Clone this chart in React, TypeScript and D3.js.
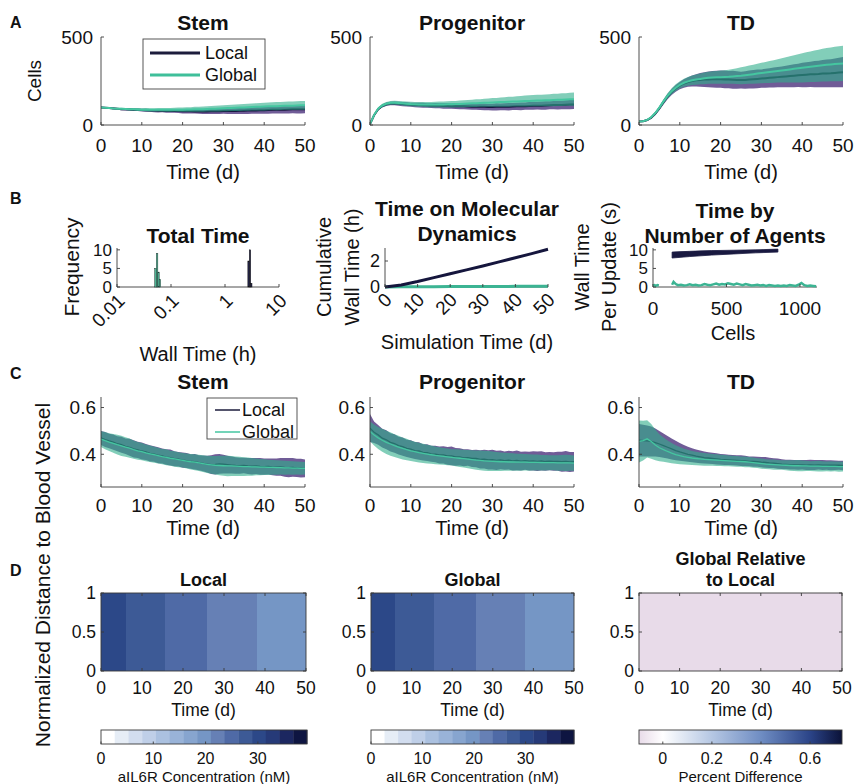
import React from 'react';
import * as d3 from 'd3';

const FONT = '"Liberation Sans", Arial, Helvetica, sans-serif';
const AXC = '#3a3a3a';

// ---------- shared time axis (days) ----------
const DAYS = [0,1,2,3,4,5,6,7,8,9,10,11,12,13,14,15,16,17,18,19,20,21,22,23,24,25,26,27,28,29,30,31,32,33,34,35,36,37,38,39,40,41,42,43,44,45,46,47,48,49,50];
const TIME_TICKS = [0, 10, 20, 30, 40, 50];

// ---------- Panel A: cell counts (mean and half-width of band) ----------
const A_STEM_LOCAL_MEAN = [100,98,96,94,92,90,89,88,87,86,85,84,83,82,81,81,80,80,79,79,78,78,78,77,77,77,77,78,78,78,79,79,80,80,81,81,82,82,83,84,84,85,86,86,87,87,88,89,89,90,90];
const A_STEM_LOCAL_HALF = [3,4,4,5,5,6,6,7,7,7,8,9,8,9,10,9,10,11,10,11,12,12,13,12,13,14,14,15,15,16,15,16,17,17,18,18,19,18,19,20,20,21,20,21,22,22,23,22,23,24,23];
const A_STEM_GLOBAL_MEAN = [100,98,96,94,93,92,91,90,89,88,87,87,86,86,86,86,86,86,87,87,87,88,88,89,89,90,91,92,93,94,95,96,97,98,99,100,101,102,103,104,105,106,107,107,108,109,110,110,111,112,112];
const A_STEM_GLOBAL_HALF = [3,4,4,5,5,6,6,7,7,8,8,9,9,9,10,10,11,11,11,12,12,13,13,14,14,15,15,16,16,17,17,18,18,19,19,19,20,20,21,21,22,22,22,23,23,23,24,24,24,25,25];

const A_PROG_LOCAL_MEAN = [5,55,90,108,118,122,123,121,119,117,115,114,113,112,111,110,110,109,108,108,107,107,106,106,105,104,104,103,103,102,102,103,103,104,104,105,106,106,107,108,109,110,110,111,112,113,113,114,115,116,117];
const A_PROG_LOCAL_HALF = [2,6,8,9,10,10,11,11,12,12,12,13,13,14,13,14,15,14,15,16,15,16,17,16,17,18,17,18,19,18,19,20,19,20,21,20,21,22,21,22,23,22,23,24,23,24,25,24,25,26,26];
const A_PROG_GLOBAL_MEAN = [5,57,93,111,121,126,127,125,123,121,119,118,117,117,116,116,116,117,117,118,118,119,120,121,122,123,124,125,126,127,128,129,130,131,132,133,134,135,136,137,138,139,139,140,141,142,143,144,145,146,147];
const A_PROG_GLOBAL_HALF = [2,6,8,10,10,11,11,12,12,13,13,13,14,14,15,15,16,16,17,17,18,18,19,20,20,21,22,22,23,24,25,25,26,27,28,28,29,30,31,32,32,33,33,34,34,35,35,36,36,37,37];

const A_TD_LOCAL_MEAN = [20,21,28,42,65,95,130,162,188,208,224,236,244,250,254,256,258,259,260,260,260,259,258,257,256,255,256,258,260,262,264,266,268,270,272,274,276,278,280,282,284,286,288,289,290,292,293,294,296,298,300];
const A_TD_LOCAL_HALF = [3,4,5,7,9,11,13,15,17,19,21,24,27,31,35,39,42,45,47,48,49,50,49,51,50,48,50,51,52,53,52,54,55,57,58,59,61,63,65,66,69,71,72,74,75,77,79,80,82,84,86];
const A_TD_GLOBAL_MEAN = [20,21,29,44,68,99,134,166,192,212,228,240,248,254,258,262,265,268,270,271,272,273,274,276,278,280,283,286,289,292,295,298,301,304,307,310,313,316,319,322,325,328,331,334,337,340,342,344,346,348,350];
const A_TD_GLOBAL_HALF = [3,4,5,7,9,11,13,15,17,19,21,23,25,27,29,31,33,34,35,36,37,38,40,42,45,48,50,52,54,56,58,60,62,64,66,69,72,75,78,80,83,85,87,89,91,93,95,96,98,99,100];

const A_Y_TICKS = [0, 500];

// ---------- Panel B ----------
const HIST_GLOBAL_EDGES = [0.05, 0.0535, 0.057, 0.0605, 0.064];
const HIST_GLOBAL_COUNTS = [5, 9, 4, 2];
const HIST_LOCAL_EDGES = [2.65, 2.82, 2.99, 3.16];
const HIST_LOCAL_COUNTS = [7, 10, 1];
const HIST_X_TICKS = [0.01, 0.1, 1, 10];
const HIST_X_LABELS = ['0.01', '0.1', '1', '10'];
const HIST_Y_TICKS = [0, 5, 10];

const MD_TIME = [0, 5, 10, 15, 20, 25, 30, 35, 40, 45, 50];
const MD_LOCAL = [0, 0.15, 0.42, 0.72, 1.02, 1.32, 1.62, 1.93, 2.25, 2.57, 2.9];
const MD_GLOBAL = [0, 0.01, 0.02, 0.02, 0.03, 0.03, 0.04, 0.04, 0.05, 0.05, 0.05];
const MD_Y_TICKS = [0, 2];

const AGENT_LOCAL_CELLS = [130, 250, 400, 550, 700, 850];
const AGENT_LOCAL_LO = [7.8, 8.2, 8.6, 8.9, 9.2, 9.4];
const AGENT_LOCAL_HI = [9.4, 9.6, 9.8, 9.9, 10.0, 10.2];
const AGENT_GLOBAL_CELLS_1 = [0, 10, 20, 30, 40];
const AGENT_GLOBAL_VALS_1 = [0.4, 0.5, 0.3, 0.5, 0.4];
const AGENT_GLOBAL_CELLS_2 = [130,140,155,170,190,210,230,250,270,290,310,330,350,370,390,410,430,450,470,490,510,530,550,570,590,610,630,650,670,690,710,730,750,770,790,810,830,850,870,890,910,930,950,970,990,1010,1030,1050,1070,1090,1110];
const AGENT_GLOBAL_VALS_2 = [0.6,1.4,0.8,0.5,0.6,0.4,0.5,0.7,0.5,0.6,0.4,0.5,0.8,0.6,0.5,0.7,0.9,0.6,0.8,0.7,1.0,0.8,0.6,0.9,0.7,0.5,0.8,0.6,0.4,0.5,0.6,0.4,0.5,0.3,0.5,0.4,0.3,0.4,0.3,0.4,0.3,0.5,0.4,0.3,0.6,1.1,0.5,0.3,0.4,0.3,0.2];
const AGENT_X_TICKS = [0, 500, 1000];
const AGENT_Y_TICKS = [0, 5, 10];

// ---------- Panel C: normalized distance ----------
const C_STEM_LOCAL_MEAN = [0.470,0.463,0.457,0.452,0.445,0.441,0.434,0.430,0.423,0.419,0.414,0.410,0.404,0.401,0.396,0.393,0.388,0.386,0.381,0.379,0.375,0.373,0.369,0.368,0.364,0.361,0.358,0.356,0.357,0.359,0.358,0.356,0.354,0.352,0.351,0.352,0.350,0.349,0.350,0.348,0.347,0.348,0.346,0.345,0.346,0.344,0.343,0.344,0.342,0.341,0.340];
const C_STEM_LOCAL_HALF = [0.030,0.032,0.031,0.033,0.032,0.034,0.033,0.036,0.037,0.035,0.036,0.034,0.035,0.033,0.034,0.032,0.033,0.034,0.032,0.031,0.033,0.032,0.031,0.033,0.032,0.034,0.036,0.040,0.043,0.042,0.040,0.038,0.036,0.035,0.034,0.033,0.034,0.035,0.034,0.036,0.035,0.034,0.036,0.037,0.038,0.040,0.041,0.040,0.039,0.040,0.038];
const C_STEM_GLOBAL_MEAN = [0.465,0.458,0.452,0.447,0.441,0.436,0.431,0.426,0.420,0.415,0.411,0.406,0.402,0.398,0.394,0.390,0.387,0.383,0.380,0.377,0.374,0.371,0.368,0.366,0.363,0.360,0.357,0.355,0.353,0.352,0.351,0.350,0.350,0.349,0.348,0.347,0.347,0.346,0.346,0.345,0.345,0.344,0.344,0.343,0.343,0.342,0.342,0.341,0.341,0.340,0.340];
const C_STEM_GLOBAL_HALF = [0.034,0.037,0.038,0.040,0.042,0.043,0.042,0.041,0.039,0.038,0.037,0.036,0.035,0.034,0.034,0.033,0.034,0.032,0.033,0.032,0.031,0.032,0.033,0.034,0.035,0.036,0.037,0.038,0.040,0.042,0.043,0.044,0.043,0.042,0.041,0.040,0.039,0.038,0.036,0.035,0.034,0.033,0.032,0.031,0.030,0.030,0.029,0.029,0.028,0.028,0.027];

const C_PROG_LOCAL_MEAN = [0.512,0.494,0.483,0.469,0.462,0.451,0.446,0.437,0.433,0.425,0.422,0.416,0.414,0.408,0.407,0.402,0.401,0.397,0.397,0.393,0.393,0.389,0.389,0.385,0.386,0.382,0.382,0.378,0.379,0.376,0.377,0.374,0.376,0.373,0.375,0.372,0.374,0.371,0.373,0.371,0.372,0.370,0.372,0.369,0.371,0.369,0.370,0.368,0.370,0.367,0.368];
const C_PROG_LOCAL_HALF = [0.060,0.046,0.042,0.040,0.041,0.039,0.040,0.038,0.039,0.037,0.038,0.036,0.037,0.035,0.036,0.034,0.035,0.036,0.037,0.038,0.040,0.038,0.037,0.036,0.035,0.036,0.037,0.039,0.040,0.041,0.042,0.041,0.040,0.039,0.040,0.041,0.042,0.040,0.039,0.040,0.041,0.042,0.041,0.040,0.039,0.040,0.041,0.043,0.044,0.043,0.042];
const C_PROG_GLOBAL_MEAN = [0.498,0.482,0.470,0.460,0.451,0.444,0.437,0.431,0.425,0.420,0.415,0.411,0.407,0.404,0.401,0.398,0.395,0.393,0.391,0.389,0.387,0.385,0.383,0.381,0.379,0.377,0.375,0.374,0.372,0.371,0.370,0.369,0.368,0.368,0.367,0.367,0.366,0.366,0.366,0.365,0.365,0.365,0.364,0.364,0.364,0.364,0.363,0.363,0.363,0.363,0.362];
const C_PROG_GLOBAL_HALF = [0.042,0.045,0.047,0.049,0.050,0.050,0.049,0.048,0.047,0.046,0.044,0.043,0.042,0.041,0.040,0.039,0.038,0.037,0.036,0.036,0.035,0.036,0.037,0.038,0.039,0.040,0.041,0.042,0.043,0.043,0.042,0.041,0.040,0.039,0.038,0.037,0.036,0.036,0.035,0.035,0.034,0.034,0.033,0.033,0.032,0.032,0.033,0.034,0.035,0.034,0.033];

const C_TD_LOCAL_MEAN = [0.460,0.458,0.457,0.455,0.450,0.444,0.437,0.430,0.423,0.416,0.410,0.405,0.400,0.396,0.392,0.389,0.386,0.384,0.382,0.380,0.378,0.377,0.376,0.375,0.374,0.373,0.372,0.370,0.369,0.368,0.366,0.365,0.363,0.362,0.360,0.358,0.357,0.356,0.355,0.355,0.355,0.354,0.355,0.354,0.355,0.354,0.354,0.353,0.353,0.353,0.352];
const C_TD_LOCAL_HALF = [0.070,0.068,0.066,0.064,0.060,0.056,0.052,0.048,0.045,0.042,0.038,0.035,0.032,0.030,0.028,0.027,0.026,0.025,0.024,0.024,0.023,0.023,0.022,0.022,0.022,0.023,0.022,0.021,0.022,0.021,0.022,0.023,0.022,0.021,0.022,0.021,0.020,0.021,0.020,0.021,0.020,0.021,0.022,0.021,0.020,0.021,0.020,0.021,0.020,0.019,0.020];
const C_TD_GLOBAL_MEAN = [0.455,0.458,0.466,0.455,0.440,0.428,0.420,0.412,0.405,0.399,0.394,0.390,0.387,0.384,0.382,0.380,0.378,0.377,0.376,0.375,0.374,0.373,0.372,0.371,0.370,0.369,0.368,0.366,0.364,0.362,0.360,0.358,0.357,0.356,0.355,0.354,0.353,0.352,0.351,0.351,0.350,0.350,0.349,0.349,0.349,0.348,0.348,0.348,0.348,0.347,0.347];
const C_TD_GLOBAL_HALF = [0.090,0.085,0.080,0.074,0.066,0.058,0.052,0.047,0.043,0.040,0.037,0.034,0.032,0.030,0.029,0.028,0.027,0.026,0.025,0.025,0.024,0.024,0.023,0.023,0.023,0.022,0.023,0.022,0.022,0.021,0.022,0.021,0.021,0.022,0.021,0.020,0.021,0.022,0.023,0.024,0.023,0.022,0.021,0.022,0.023,0.022,0.021,0.022,0.021,0.022,0.021];

const C_Y_TICKS = [0.4, 0.6];

// ---------- Panel D: concentration vs time (uniform in distance) ----------
const CONC_TIME = [0, 5, 10, 15, 20, 25, 30, 35, 40, 45, 50];
const CONC_LOCAL = [30.7, 29.2, 27.7, 26.4, 25.1, 23.85, 22.7, 21.6, 20.6, 19.6, 18.7];
const CONC_GLOBAL = [30.7, 29.2, 27.7, 26.4, 25.1, 23.85, 22.7, 21.6, 20.6, 19.6, 18.7];
const REL_DIFF = [-0.097, -0.097, -0.097, -0.097, -0.097, -0.097, -0.097, -0.097, -0.097, -0.097, -0.097];
const CONC_MAX = 39.4;
const CONC_TICKS = [0, 10, 20, 30];
const REL_DOMAIN = [-0.097, 0.73];
const REL_TICKS = [0, 0.2, 0.4, 0.6];
const D_Y_TICKS = [0, 0.5, 1];

// colormap (15 discrete levels) and relative-difference colormap
const LEVEL_COLORS = ['#ffffff','#e6edf6','#d2ddef','#bfcfe8','#abc1e0','#99b3d8','#87a5cf','#7596c5','#6680b5','#4f6aa6','#3d5a96','#2c4888','#263a78','#1c2760','#0e1541'];
const REL_STOPS = [-0.097, 0, 0.2, 0.4, 0.6, 0.73];
const REL_COLORS = ['#e8dbe9', '#ffffff', '#b5c7e3', '#6f8dc3', '#2b4488', '#0b1238'];

// ---------- styles ----------
const LOCAL_LINE = '#17173f';
const LOCAL_FILL = '#573f85';
const GLOBAL_LINE = '#45c6a0';
const GLOBAL_FILL = '#2fae8a';

const T = (props: any) => <text fontFamily={FONT} fill="#111" {...props} />;

function TimeBandPanel(p: any) {
  const { x0, y0, w, h, yDomain, yTicks, yFmt, title, local, global, id, titleDy, tickDy, labelDy, yLabelDx, lw } = p;
  const x = d3.scaleLinear().domain([0, 50]).range([x0, x0 + w]);
  const y = d3.scaleLinear().domain(yDomain).range([y0 + h, y0]);
  const area = (m: number[], hw: number[]) =>
    d3.area<number>().x((_, i) => x(DAYS[i])).y0((d, i) => y(d - hw[i])).y1((d, i) => y(d + hw[i]))(m) || '';
  const line = (m: number[]) => d3.line<number>().x((_, i) => x(DAYS[i])).y((d) => y(d))(m) || '';
  return (
    <g>
      <defs>
        <clipPath id={id}>
          <rect x={x0} y={y0} width={w} height={h} />
        </clipPath>
      </defs>
      <g clipPath={`url(#${id})`}>
        <path d={area(local[0], local[1])} fill={LOCAL_FILL} fillOpacity={0.85} />
        <path d={line(local[0])} fill="none" stroke={LOCAL_LINE} strokeWidth={lw} />
        <path d={area(global[0], global[1])} fill={GLOBAL_FILL} fillOpacity={0.6} />
        <path d={line(global[0])} fill="none" stroke={GLOBAL_LINE} strokeWidth={lw} />
      </g>
      <line x1={x0} x2={x0 + w} y1={y0 + h} y2={y0 + h} stroke={AXC} strokeWidth={0.9} />
      <line x1={x0} x2={x0} y1={y0} y2={y0 + h} stroke={AXC} strokeWidth={0.9} />
      {TIME_TICKS.map((t) => (
        <g key={t}>
          <line x1={x(t)} x2={x(t)} y1={y0 + h} y2={y0 + h - 3} stroke={AXC} strokeWidth={0.9} />
          <T x={x(t)} y={y0 + h + tickDy} fontSize={19} textAnchor="middle">{t}</T>
        </g>
      ))}
      {yTicks.map((v: number) => (
        <g key={v}>
          <line x1={x0} x2={x0 + 3} y1={y(v)} y2={y(v)} stroke={AXC} strokeWidth={0.9} />
          <T x={x0 - yLabelDx} y={y(v) + 6.5} fontSize={19} textAnchor="end">{yFmt(v)}</T>
        </g>
      ))}
      <T x={x0 + w / 2} y={y0 - titleDy} fontSize={21} fontWeight="bold" textAnchor="middle">{title}</T>
      <T x={x0 + w / 2} y={y0 + h + labelDy} fontSize={20} textAnchor="middle">Time (d)</T>
    </g>
  );
}

function Legend({ x, y, w, h, lx1, lx2, tx, rows, fs, lw }: any) {
  return (
    <g>
      <rect x={x} y={y} width={w} height={h} fill="#fff" stroke="#444" strokeWidth={0.9} />
      {rows.map((r: any, i: number) => (
        <g key={i}>
          <line x1={lx1} x2={lx2} y1={r.y} y2={r.y} stroke={r.color} strokeWidth={lw} />
          <T x={tx} y={r.y + fs * 0.36} fontSize={fs}>{r.label}</T>
        </g>
      ))}
    </g>
  );
}

function concAt(times: number[], vals: number[], t: number) {
  const i = Math.min(Math.max(d3.bisectRight(times, t) - 1, 0), times.length - 2);
  const f = (t - times[i]) / (times[i + 1] - times[i]);
  return vals[i] + f * (vals[i + 1] - vals[i]);
}

function HeatPanel(p: any) {
  const { x0, y0, w, h, titleLines, colorOf, vals } = p;
  const x = d3.scaleLinear().domain([0, 50]).range([x0, x0 + w]);
  const y = d3.scaleLinear().domain([0, 1]).range([y0 + h, y0]);
  // group pixel columns with identical colour into runs
  const runs: { a: number; b: number; c: string }[] = [];
  for (let px = 0; px < w; px++) {
    const t = x.invert(x0 + px + 0.5);
    const c = colorOf(concAt(CONC_TIME, vals, t));
    const last = runs[runs.length - 1];
    if (last && last.c === c) last.b = px + 1;
    else runs.push({ a: px, b: px + 1, c });
  }
  return (
    <g>
      {runs.map((r, i) => (
        <rect key={i} x={x0 + r.a} y={y0} width={r.b - r.a + (i < runs.length - 1 ? 0.5 : 0)} height={h} fill={r.c} />
      ))}
      <rect x={x0} y={y0} width={w} height={h} fill="none" stroke={AXC} strokeWidth={0.9} />
      {TIME_TICKS.map((t) => (
        <g key={t}>
          <line x1={x(t)} x2={x(t)} y1={y0 + h} y2={y0 + h - 3} stroke={AXC} strokeWidth={0.9} />
          <line x1={x(t)} x2={x(t)} y1={y0} y2={y0 + 3} stroke={AXC} strokeWidth={0.9} />
          <T x={x(t)} y={y0 + h + 23} fontSize={17.5} textAnchor="middle">{t}</T>
        </g>
      ))}
      {D_Y_TICKS.map((v) => (
        <g key={v}>
          <line x1={x0} x2={x0 + 3} y1={y(v)} y2={y(v)} stroke={AXC} strokeWidth={0.9} />
          <line x1={x0 + w} x2={x0 + w - 3} y1={y(v)} y2={y(v)} stroke={AXC} strokeWidth={0.9} />
          <T x={x0 - 5} y={y(v) + 6} fontSize={17.5} textAnchor="end">{v}</T>
        </g>
      ))}
      {titleLines.map((s: string, i: number) => (
        <T key={i} x={x0 + w / 2} y={y0 - 7 - (titleLines.length - 1 - i) * 21} fontSize={18} fontWeight="bold" textAnchor="middle">{s}</T>
      ))}
      <T x={x0 + w / 2} y={y0 + h + 45} fontSize={17.5} textAnchor="middle">Time (d)</T>
    </g>
  );
}

function ConcColorbar({ x0, y0, w, h, label }: any) {
  const s = d3.scaleLinear().domain([0, CONC_MAX]).range([x0, x0 + w]);
  const n = LEVEL_COLORS.length;
  return (
    <g>
      {LEVEL_COLORS.map((c, i) => (
        <rect key={i} x={s((i * CONC_MAX) / n)} y={y0} width={s(((i + 1) * CONC_MAX) / n) - s((i * CONC_MAX) / n) + 0.4} height={h} fill={c} />
      ))}
      <rect x={x0} y={y0} width={w} height={h} fill="none" stroke={AXC} strokeWidth={0.9} />
      {CONC_TICKS.map((v) => (
        <g key={v}>
          <line x1={s(v)} x2={s(v)} y1={y0 + h} y2={y0 + h - 2.5} stroke={AXC} strokeWidth={0.9} />
          <T x={s(v)} y={y0 + h + 20} fontSize={16} textAnchor="middle">{v}</T>
        </g>
      ))}
      <T x={x0 + w / 2} y={y0 + h + 38} fontSize={15} textAnchor="middle">{label}</T>
    </g>
  );
}

function RelColorbar({ x0, y0, w, h }: any) {
  const s = d3.scaleLinear().domain(REL_DOMAIN).range([x0, x0 + w]);
  return (
    <g>
      <defs>
        <linearGradient id="relgrad" x1="0" x2="1" y1="0" y2="0">
          {REL_STOPS.map((v, i) => (
            <stop key={i} offset={(v - REL_DOMAIN[0]) / (REL_DOMAIN[1] - REL_DOMAIN[0])} stopColor={REL_COLORS[i]} />
          ))}
        </linearGradient>
      </defs>
      <rect x={x0} y={y0} width={w} height={h} fill="url(#relgrad)" stroke={AXC} strokeWidth={0.9} />
      {REL_TICKS.map((v) => (
        <g key={v}>
          <line x1={s(v)} x2={s(v)} y1={y0 + h} y2={y0 + h - 2.5} stroke={AXC} strokeWidth={0.9} />
          <T x={s(v)} y={y0 + h + 20} fontSize={16} textAnchor="middle">{v}</T>
        </g>
      ))}
      <T x={x0 + w / 2} y={y0 + h + 38} fontSize={15} textAnchor="middle">Percent Difference</T>
    </g>
  );
}

function Axes2({ x0, y0, w, h }: any) {
  return (
    <g>
      <line x1={x0} x2={x0 + w} y1={y0 + h} y2={y0 + h} stroke={AXC} strokeWidth={0.9} />
      <line x1={x0} x2={x0} y1={y0} y2={y0 + h} stroke={AXC} strokeWidth={0.9} />
    </g>
  );
}

export default function App() {
  const AX0 = [101, 370, 639];
  const W = 204;
  const BFS = 17;

  // ---- panel B scales ----
  const hx = d3.scaleLog().domain([0.01, 10]).range([117, 279]);
  const hy = d3.scaleLinear().domain([0, 10.5]).range([287, 248]);
  const mx = d3.scaleLinear().domain([0, 50]).range([385, 548]);
  const my = d3.scaleLinear().domain([0, 3]).range([287, 248]);
  const gx = d3.scaleLinear().domain([0, 1116]).range([653, 817]);
  const gy = d3.scaleLinear().domain([0, 10.5]).range([287, 248]);

  const mdLine = (vals: number[]) => d3.line<number>().x((_, i) => mx(MD_TIME[i])).y((d) => my(d))(vals) || '';
  const agentBand = d3.area<number>().x((_, i) => gx(AGENT_LOCAL_CELLS[i])).y0((_, i) => gy(AGENT_LOCAL_LO[i])).y1((_, i) => gy(AGENT_LOCAL_HI[i])).curve(d3.curveMonotoneX)(AGENT_LOCAL_CELLS) || '';
  const agentLine = (cells: number[], vals: number[]) => d3.line<number>().x((_, i) => gx(cells[i])).y((d) => gy(d))(vals) || '';

  const concQ = d3.scaleQuantize<string>().domain([0, CONC_MAX]).range(LEVEL_COLORS);
  const concColor = (v: number) => concQ(v);
  const relColor = d3.scaleLinear<string>().domain(REL_STOPS).range(REL_COLORS).clamp(true);

  return (
    <svg width={854} height={784} style={{ position: 'absolute', left: 0, top: 0, background: '#fff' }}>
      <rect x={0} y={0} width={854} height={784} fill="#fff" />
      {/* panel letters */}
      {[['A', 28], ['B', 204], ['C', 379], ['D', 576]].map(([l, yy]) => (
        <T key={l as string} x={10} y={yy as number} fontSize={16} fontWeight="bold">{l}</T>
      ))}

      {/* ===== A ===== */}
      {[
        ['Stem', [A_STEM_LOCAL_MEAN, A_STEM_LOCAL_HALF], [A_STEM_GLOBAL_MEAN, A_STEM_GLOBAL_HALF]],
        ['Progenitor', [A_PROG_LOCAL_MEAN, A_PROG_LOCAL_HALF], [A_PROG_GLOBAL_MEAN, A_PROG_GLOBAL_HALF]],
        ['TD', [A_TD_LOCAL_MEAN, A_TD_LOCAL_HALF], [A_TD_GLOBAL_MEAN, A_TD_GLOBAL_HALF]],
      ].map((d: any, i) => (
        <TimeBandPanel key={'a' + i} id={'clipA' + i} x0={AX0[i]} y0={37} w={W} h={88} yDomain={[0, 500]} yTicks={A_Y_TICKS}
          yFmt={(v: number) => String(v)} title={d[0]} local={d[1]} global={d[2]} titleDy={7} tickDy={27} labelDy={54} yLabelDx={8} lw={2} />
      ))}
      <T transform="translate(41,81) rotate(-90)" fontSize={19} textAnchor="middle">Cells</T>
      <Legend x={143} y={39} w={122} h={50} lx1={150} lx2={200} tx={205} fs={18} lw={3}
        rows={[{ y: 53, color: '#1c1c3c', label: 'Local' }, { y: 75, color: '#3fbf9a', label: 'Global' }]} />

      {/* ===== B: Total Time ===== */}
      <Axes2 x0={117} y0={248} w={162} h={39} />
      {HIST_GLOBAL_COUNTS.map((c, i) => (
        <rect key={'hg' + i} x={hx(HIST_GLOBAL_EDGES[i])} width={hx(HIST_GLOBAL_EDGES[i + 1]) - hx(HIST_GLOBAL_EDGES[i])} y={hy(c)} height={hy(0) - hy(c)}
          fill="#4fb393" stroke="#1d3a35" strokeWidth={0.5} />
      ))}
      {HIST_LOCAL_COUNTS.map((c, i) => (
        <rect key={'hl' + i} x={hx(HIST_LOCAL_EDGES[i])} width={hx(HIST_LOCAL_EDGES[i + 1]) - hx(HIST_LOCAL_EDGES[i])} y={hy(c)} height={hy(0) - hy(c)}
          fill="#24244a" stroke="#111" strokeWidth={0.5} />
      ))}
      {HIST_X_TICKS.map((v, i) => (
        <g key={'hxt' + v}>
          <line x1={hx(v)} x2={hx(v)} y1={287} y2={284} stroke={AXC} strokeWidth={0.9} />
          <T transform={`translate(${hx(v) + 9},${302}) rotate(-45)`} fontSize={19} textAnchor="end">{HIST_X_LABELS[i]}</T>
        </g>
      ))}
      {HIST_Y_TICKS.map((v) => (
        <g key={'hyt' + v}>
          <line x1={117} x2={120} y1={hy(v)} y2={hy(v)} stroke={AXC} strokeWidth={0.9} />
          <T x={112} y={hy(v) + 6} fontSize={BFS} textAnchor="end">{v}</T>
        </g>
      ))}
      <T x={198} y={243} fontSize={21} fontWeight="bold" textAnchor="middle">Total Time</T>
      <T transform="translate(79,267) rotate(-90)" fontSize={21} textAnchor="middle">Frequency</T>
      <T x={198} y={361} fontSize={20} textAnchor="middle">Wall Time (h)</T>

      {/* ===== B: Molecular dynamics ===== */}
      <Axes2 x0={385} y0={248} w={163} h={39} />
      <path d={mdLine(MD_GLOBAL)} fill="none" stroke="#3cb493" strokeWidth={3} />
      <path d={mdLine(MD_LOCAL)} fill="none" stroke="#15163d" strokeWidth={3} />
      {TIME_TICKS.map((t) => (
        <g key={'mxt' + t}>
          <line x1={mx(t)} x2={mx(t)} y1={287} y2={284} stroke={AXC} strokeWidth={0.9} />
          <T transform={`translate(${mx(t) + 8},${301}) rotate(-45)`} fontSize={19} textAnchor="end">{t}</T>
        </g>
      ))}
      {MD_Y_TICKS.map((v) => (
        <g key={'myt' + v}>
          <line x1={385} x2={388} y1={my(v)} y2={my(v)} stroke={AXC} strokeWidth={0.9} />
          <T x={380} y={my(v) + 6} fontSize={BFS + 1} textAnchor="end">{v}</T>
        </g>
      ))}
      <T x={467} y={216} fontSize={21} fontWeight="bold" textAnchor="middle">Time on Molecular</T>
      <T x={467} y={241} fontSize={21} fontWeight="bold" textAnchor="middle">Dynamics</T>
      <T transform="translate(331,267) rotate(-90)" fontSize={20} textAnchor="middle">Cumulative</T>
      <T transform="translate(359,267) rotate(-90)" fontSize={20} textAnchor="middle">Wall Time (h)</T>
      <T x={467} y={349} fontSize={20} textAnchor="middle">Simulation Time (d)</T>

      {/* ===== B: agents ===== */}
      <Axes2 x0={653} y0={248} w={164} h={39} />
      <path d={agentBand} fill="#191940" stroke="#191940" strokeWidth={0.8} />
      <path d={agentLine(AGENT_GLOBAL_CELLS_1, AGENT_GLOBAL_VALS_1)} fill="none" stroke="#3cb493" strokeWidth={2.5} />
      <path d={agentLine(AGENT_GLOBAL_CELLS_2, AGENT_GLOBAL_VALS_2)} fill="none" stroke="#3cb493" strokeWidth={2.5} />
      {AGENT_X_TICKS.map((v) => (
        <g key={'gxt' + v}>
          <line x1={gx(v)} x2={gx(v)} y1={287} y2={284} stroke={AXC} strokeWidth={0.9} />
          <T x={gx(v)} y={315} fontSize={19} textAnchor="middle">{v}</T>
        </g>
      ))}
      {AGENT_Y_TICKS.map((v) => (
        <g key={'gyt' + v}>
          <line x1={653} x2={656} y1={gy(v)} y2={gy(v)} stroke={AXC} strokeWidth={0.9} />
          <T x={648} y={gy(v) + 6} fontSize={BFS} textAnchor="end">{v}</T>
        </g>
      ))}
      <T x={735} y={218} fontSize={21} fontWeight="bold" textAnchor="middle">Time by</T>
      <T x={735} y={243} fontSize={21} fontWeight="bold" textAnchor="middle">Number of Agents</T>
      <T transform="translate(589,267) rotate(-90)" fontSize={20} textAnchor="middle">Wall Time</T>
      <T transform="translate(616,267) rotate(-90)" fontSize={20} textAnchor="middle">Per Update (s)</T>
      <T x={733} y={340} fontSize={20} textAnchor="middle">Cells</T>

      {/* ===== C ===== */}
      {[
        ['Stem', [C_STEM_LOCAL_MEAN, C_STEM_LOCAL_HALF], [C_STEM_GLOBAL_MEAN, C_STEM_GLOBAL_HALF]],
        ['Progenitor', [C_PROG_LOCAL_MEAN, C_PROG_LOCAL_HALF], [C_PROG_GLOBAL_MEAN, C_PROG_GLOBAL_HALF]],
        ['TD', [C_TD_LOCAL_MEAN, C_TD_LOCAL_HALF], [C_TD_GLOBAL_MEAN, C_TD_GLOBAL_HALF]],
      ].map((d: any, i) => (
        <TimeBandPanel key={'c' + i} id={'clipC' + i} x0={AX0[i]} y0={397} w={W} h={90} yDomain={[0.26, 0.645]} yTicks={C_Y_TICKS}
          yFmt={(v: number) => v.toFixed(1)} title={d[0]} local={d[1]} global={d[2]} titleDy={8} tickDy={25} labelDy={48} yLabelDx={5} lw={1.3} />
      ))}
      <Legend x={207} y={398} w={90} h={41} lx1={215} lx2={240} tx={242} fs={18} lw={1.5}
        rows={[{ y: 410, color: '#1c1c3c', label: 'Local' }, { y: 432, color: '#45c6a0', label: 'Global' }]} />

      <T transform="translate(50,575) rotate(-90)" fontSize={21} textAnchor="middle">Normalized Distance to Blood Vessel</T>

      {/* ===== D ===== */}
      <HeatPanel x0={101} y0={593} w={205} h={78} titleLines={['Local']} colorOf={concColor} vals={CONC_LOCAL} />
      <HeatPanel x0={371} y0={593} w={203} h={78} titleLines={['Global']} colorOf={concColor} vals={CONC_GLOBAL} />
      <HeatPanel x0={639} y0={593} w={203} h={78} titleLines={['Global Relative', 'to Local']} colorOf={(v: number) => relColor(v)} vals={REL_DIFF} />
      <ConcColorbar x0={101} y0={730} w={206} h={14} label="aIL6R Concentration (nM)" />
      <ConcColorbar x0={371} y0={730} w={203} h={14} label="aIL6R Concentration (nM)" />
      <RelColorbar x0={639} y0={730} w={203} h={14} />
    </svg>
  );
}
